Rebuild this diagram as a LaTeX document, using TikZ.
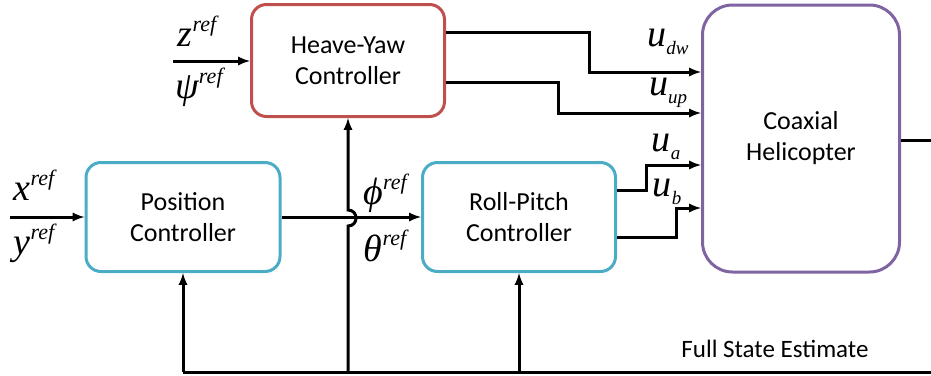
\documentclass[tikz,border=0pt]{standalone}
\usepackage{fontspec}
\usepackage{tikz}
\usetikzlibrary{arrows}
\setmainfont{Carlito}
\newfontfamily\lblfont{Liberation Serif}
\definecolor{boxred}{HTML}{C0504D}
\definecolor{boxcyan}{HTML}{4BACC6}
\definecolor{boxpurple}{HTML}{8064A2}
\newcommand{\refsig}[1]{{\lblfont\itshape\fontsize{38}{38}\selectfont #1\raisebox{0.4em}{\fontsize{22}{22}\selectfont ref}}}
\newcommand{\usig}[1]{{\lblfont\itshape\fontsize{38}{38}\selectfont u\raisebox{-0.2em}{\fontsize{19}{19}\selectfont #1}}}

\begin{document}
\begin{tikzpicture}[x=1pt,y=-1pt,
  ctrl/.style={draw,line width=3pt,rounded corners=15pt,align=center,
    font=\fontsize{26}{31}\selectfont,inner sep=0pt},
  sig/.style={line width=3pt},
  arr/.style={sig,-latex}]
\useasboundingbox (0,0) rectangle (931,375);
% blocks
\node[ctrl,draw=boxred,minimum width=193pt,minimum height=112pt] (heave) at (348,60.5) {Heave-Yaw\\Controller};
\node[ctrl,draw=boxcyan,minimum width=194pt,minimum height=109pt] (pos) at (183,217) {Position\\Controller};
\node[ctrl,draw=boxcyan,minimum width=193pt,minimum height=109pt] (rp) at (519,217) {Roll-Pitch\\Controller};
\node[ctrl,draw=boxpurple,rounded corners=30pt,minimum width=197pt,minimum height=267pt] (heli) at (801,138.5) {Coaxial\\Helicopter};
% references
\coordinate (zin) at (173,61);
\coordinate (xin) at (10,217);
\draw[arr] (zin) -- (heave.west |- zin);
\draw[arr] (xin) -- (pos.west |- xin);
\node (zref) at (197,31) {\refsig{z}};
\node (psiref) at (199,87) {\refsig{ψ}};
\node (xref) at (34,185) {\refsig{x}};
\node (yref) at (34,243) {\refsig{y}};
% position to roll-pitch
\draw[arr] (pos.east |- xin) -- (rp.west |- xin);
\node (phiref) at (385,193) {\refsig{ϕ}};
\node (thetaref) at (385,246) {\refsig{θ}};
% controller outputs
\draw[arr] (heave.east |- 0,32) -| (589,72) -- (heli.west |- 0,72);
\draw[arr] (heave.east |- 0,82) -| (558,113) -- (heli.west |- 0,113);
\draw[arr] (rp.east |- 0,190) -| (646,165) -- (heli.west |- 0,165);
\draw[arr] (rp.east |- 0,237) -| (676,208) -- (heli.west |- 0,208);
\node (udw) at (668,42) {\usig{dw}};
\node (uup) at (668,93) {\usig{up}};
\node (ua) at (666,147) {\usig{a}};
\node (ub) at (667,192) {\usig{b}};
% output and state feedback
\coordinate (yout) at (931,140);
\coordinate (fbr) at (931,372);
\coordinate (fbl) at (pos.south |- fbr);
\draw[sig] (heli.east |- yout) -- (yout);
\draw[sig] (fbr) -- (fbl);
\draw[arr] (fbl) -- (pos.south);
\draw[arr] (rp.south |- fbr) -- (rp.south);
\draw[arr] (heave.south |- fbr) -- (heave.south |- 0,226)
  .. controls (358.7,226) and (358.7,210) .. (heave.south |- 0,210) -- (heave.south);
\node (fse) at (775,349) {\fontsize{25}{30}\selectfont Full State Estimate};
\end{tikzpicture}
\end{document}
